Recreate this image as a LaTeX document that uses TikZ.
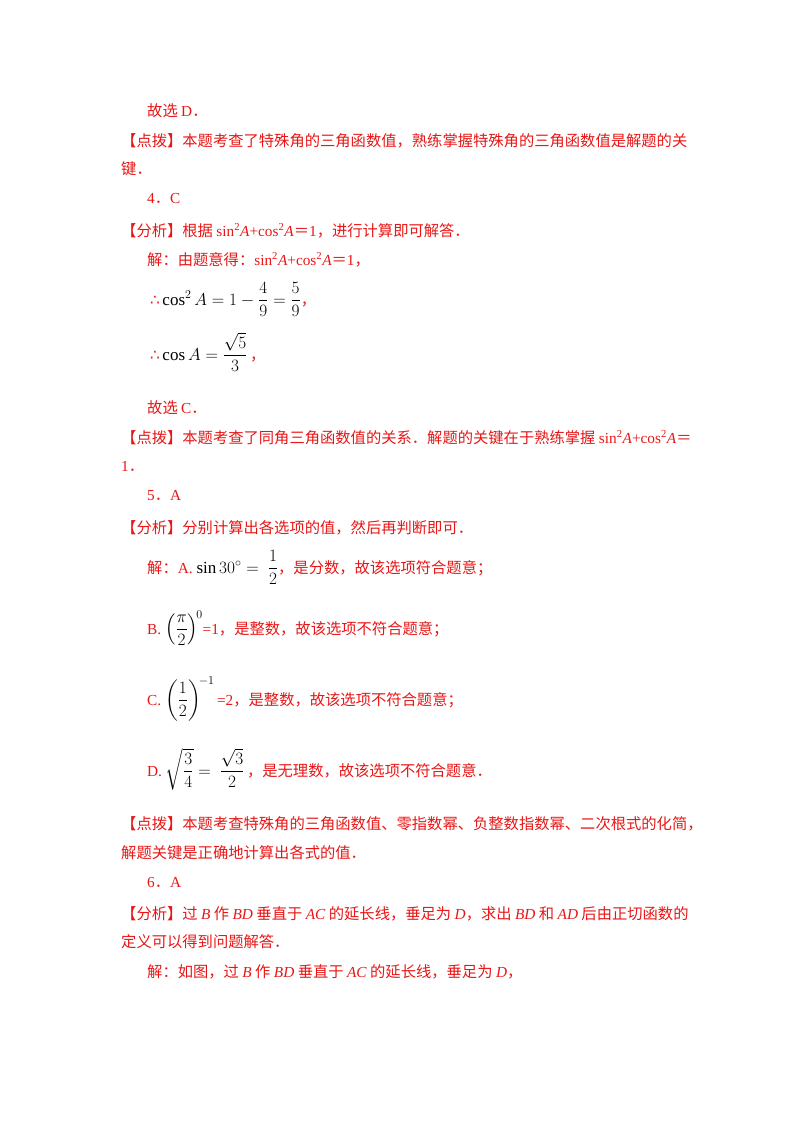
\documentclass[tikz,border=0pt]{standalone}
\usepackage{amsmath}
\usepackage{fontspec}
\setmainfont{Liberation Serif}
\newfontfamily\cjk{Noto Sans CJK SC}
\newfontfamily\latn{Liberation Serif}
\newfontfamily\djv{DejaVu Sans}
\XeTeXinterchartokenstate=1
\newXeTeXintercharclass\cjkclass
\count255="3000
\loop\XeTeXcharclass\count255=\cjkclass\advance\count255 by 1\ifnum\count255<"3040\repeat
\count255="4E00
\loop\XeTeXcharclass\count255=\cjkclass\advance\count255 by 1\ifnum\count255<"A000\repeat
\count255="FF00
\loop\XeTeXcharclass\count255=\cjkclass\advance\count255 by 1\ifnum\count255<"FFF0\repeat
\XeTeXinterchartoks 0 \cjkclass = {\cjk}
\XeTeXinterchartoks 4095 \cjkclass = {\cjk}
\XeTeXinterchartoks \cjkclass 0 = {\latn}
\XeTeXinterchartoks 4095 0 = {\latn}
\definecolor{rd}{RGB}{232,22,22}
\tikzset{ln/.style={anchor=base west,inner sep=0pt,text=rd,font=\fontsize{15.3}{18}\selectfont}}
\newcommand{\bk}[1]{{\color{black}\fontsize{17}{20}\selectfont#1}}
\newcommand{\so}{{\XeTeXinterchartokenstate=0 \djv ∴}}
\begin{document}
\begin{tikzpicture}[x=1pt,y=-1pt]
\useasboundingbox (0,0) rectangle (800,1132);
\node[ln] (l1) at (147,116) {故选 D．};
\node[ln] (l2) at (121,146) {【点拨】本题考查了特殊角的三角函数值，熟练掌握特殊角的三角函数值是解题的关};
\node[ln] (l3) at (121,174) {键．};
\node[ln] (l4) at (147,203) {4．C};
\node[ln] (l5) at (121,236) {【分析】根据 sin\textsuperscript{2}\textit{A}+cos\textsuperscript{2}\textit{A}＝1，进行计算即可解答．};
\node[ln] (l6) at (147,265) {解：由题意得：sin\textsuperscript{2}\textit{A}+cos\textsuperscript{2}\textit{A}＝1，};
\node[ln] (l7) at (150,305) {\so\,\bk{$\cos^2 A=1-\dfrac{4}{9}=\dfrac{5}{9}$}，};
\node[ln] (l8) at (150,360) {\so\,\bk{$\cos A=\dfrac{\sqrt5}{3}$}\,，};
\node[ln] (l9) at (147,413) {故选 C．};
\node[ln] (l10) at (121,443) {【点拨】本题考查了同角三角函数值的关系．解题的关键在于熟练掌握 sin\textsuperscript{2}\textit{A}+cos\textsuperscript{2}\textit{A}＝};
\node[ln] (l11) at (121,471) {1．};
\node[ln] (l12) at (147,500) {5．A};
\node[ln] (l13) at (121,533) {【分析】分别计算出各选项的值，然后再判断即可．};
\node[ln] (l14) at (147,573) {解：A.\ \bk{$\sin 30^\circ=\ \dfrac12$}，是分数，故该选项符合题意；};
\node[ln] (l15) at (147,634) {B.\ \bk{$\left(\dfrac{\pi}{2}\right)^{\!0}$}=1，是整数，故该选项不符合题意；};
\node[ln] (l16) at (147,705) {C.\ \bk{$\left(\dfrac{1}{2}\right)^{\!-1}$}\,=2，是整数，故该选项不符合题意；};
\node[ln] (l17) at (147,776) {D.\ \bk{$\sqrt{\dfrac34}=\ \dfrac{\sqrt3}{2}$}\,，是无理数，故该选项不符合题意．};
\node[ln] (l18) at (121,829) {【点拨】本题考查特殊角的三角函数值、零指数幂、负整数指数幂、二次根式的化简，};
\node[ln] (l19) at (121,858) {解题关键是正确地计算出各式的值．};
\node[ln] (l20) at (147,887) {6．A};
\node[ln] (l21) at (121,919) {【分析】过 \textit{B} 作 \textit{BD} 垂直于 \textit{AC} 的延长线，垂足为 \textit{D}，求出 \textit{BD} 和 \textit{AD} 后由正切函数的};
\node[ln] (l22) at (121,947) {定义可以得到问题解答．};
\node[ln] (l23) at (147,977) {解：如图，过 \textit{B} 作 \textit{BD} 垂直于 \textit{AC} 的延长线，垂足为 \textit{D}，};
\end{tikzpicture}
\end{document}
